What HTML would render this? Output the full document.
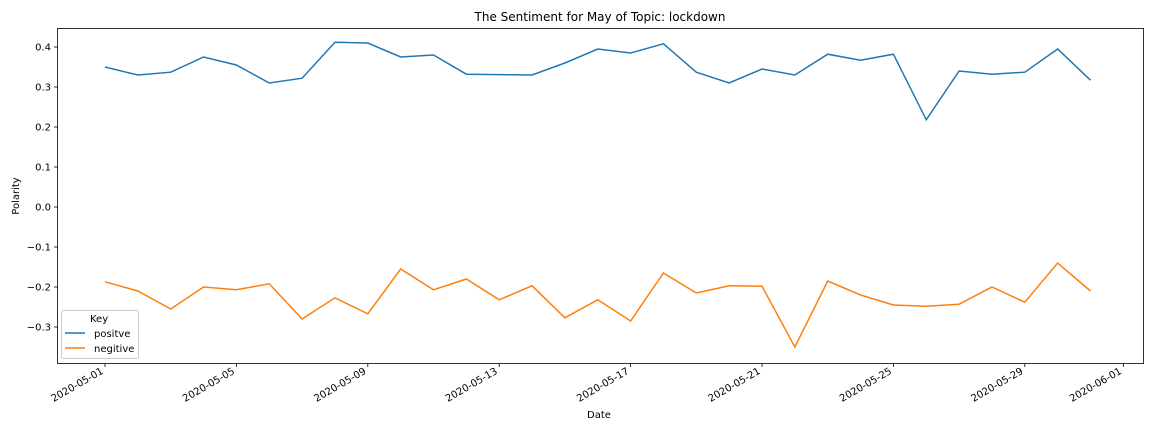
<!DOCTYPE html>
<html><head><meta charset="utf-8"><style>
body{margin:0;background:#fff;font-family:"Liberation Sans","DejaVu Sans",sans-serif;}
svg text{font-family:"DejaVu Sans","Liberation Sans",sans-serif;}
</style></head><body>
<svg id="chart" width="1152" height="432" xmlns="http://www.w3.org/2000/svg">
<rect x="0" y="0" width="1152" height="432" fill="#fff"/>
<text x="600" y="21" font-size="12" text-anchor="middle">The Sentiment for May of Topic: lockdown</text>
<g id="grid"></g>
<g id="series"></g>
<rect x="57.5" y="28.5" width="1086" height="335" fill="none" stroke="#000" stroke-width="0.8"/>
<text x="599" y="418" font-size="10" text-anchor="middle">Date</text>
<text x="19" y="196" font-size="10" text-anchor="middle" transform="rotate(-90 19 196)">Polarity</text>
<g>
<rect x="61.5" y="310.5" width="77" height="48" rx="2" fill="#fff" fill-opacity="0.8" stroke="#ccc"/>
<text x="90" y="322" font-size="10">Key</text>
<line x1="65" y1="333" x2="85" y2="333" stroke="#1f77b4" stroke-width="1.5"/>
<text x="94" y="337" font-size="10">positve</text>
<line x1="65" y1="348" x2="85" y2="348" stroke="#ff7f0e" stroke-width="1.5"/>
<text x="94" y="352" font-size="10">negitive</text>
</g>
</svg>
<script>
const days = [1,2,3,4,5,6,7,8,9,10,11,12,13,14,15,16,17,18,19,20,21,22,23,24,25,26,27,28,29,30,31];
const positive = [0.35,0.33,0.337,0.375,0.355,0.31,0.322,0.412,0.41,0.375,0.38,0.332,0.331,0.33,0.36,0.395,0.385,0.408,0.337,0.31,0.345,0.33,0.382,0.367,0.382,0.218,0.34,0.332,0.337,0.395,0.317];
const negative = [-0.187,-0.21,-0.255,-0.2,-0.207,-0.192,-0.28,-0.227,-0.267,-0.155,-0.207,-0.18,-0.232,-0.197,-0.277,-0.232,-0.285,-0.165,-0.215,-0.197,-0.198,-0.35,-0.185,-0.22,-0.245,-0.248,-0.243,-0.2,-0.238,-0.14,-0.21];
const yTicks = [0.4,0.3,0.2,0.1,0.0,-0.1,-0.2,-0.3];
const yTickLabels = ["0.4","0.3","0.2","0.1","0.0","\u22120.1","\u22120.2","\u22120.3"];
const xTickDays = [1,5,9,13,17,21,25,29,32];
const xTickLabels = ["2020-05-01","2020-05-05","2020-05-09","2020-05-13","2020-05-17","2020-05-21","2020-05-25","2020-05-29","2020-06-01"];
const NS="http://www.w3.org/2000/svg";
const xs = d => 105 + (d-1)*32.85;
const ys = v => 207 - 400*v;
const g=document.getElementById('grid');
const s=document.getElementById('series');
function mk(t,a,p){const e=document.createElementNS(NS,t);for(const k in a)e.setAttribute(k,a[k]);p.appendChild(e);return e;}
yTicks.forEach((v,i)=>{
  const y=ys(v);
  const l=mk('line',{x1:54,x2:57.5,y1:y,y2:y,stroke:'#000','stroke-width':0.8},g);
  
  
  const t=mk('text',{x:51,y:y+3.5,'font-size':10,'text-anchor':'end'},g);
  t.textContent=yTickLabels[i];
  
  
});
xTickDays.forEach((d,i)=>{
  const x=xs(d);
  const l=mk('line',{x1:x,x2:x,y1:363.5,y2:367,stroke:'#000','stroke-width':0.8},g);
  
  
  const ax=x-1, ay=373;
  const t=mk('text',{x:ax,y:ay,'font-size':10,'text-anchor':'end',transform:`rotate(-30 ${ax} ${ay})`},g);
  t.textContent=xTickLabels[i];
  
  
});
function line(vals,color,name){
  const p=mk('polyline',{points:vals.map((v,i)=>xs(days[i])+','+ys(v)).join(' '),fill:'none',stroke:color,'stroke-width':1.5},s);
  
  
}
line(positive,'#1f77b4','positive-line');
line(negative,'#ff7f0e','negative-line');
</script>
</body></html>
